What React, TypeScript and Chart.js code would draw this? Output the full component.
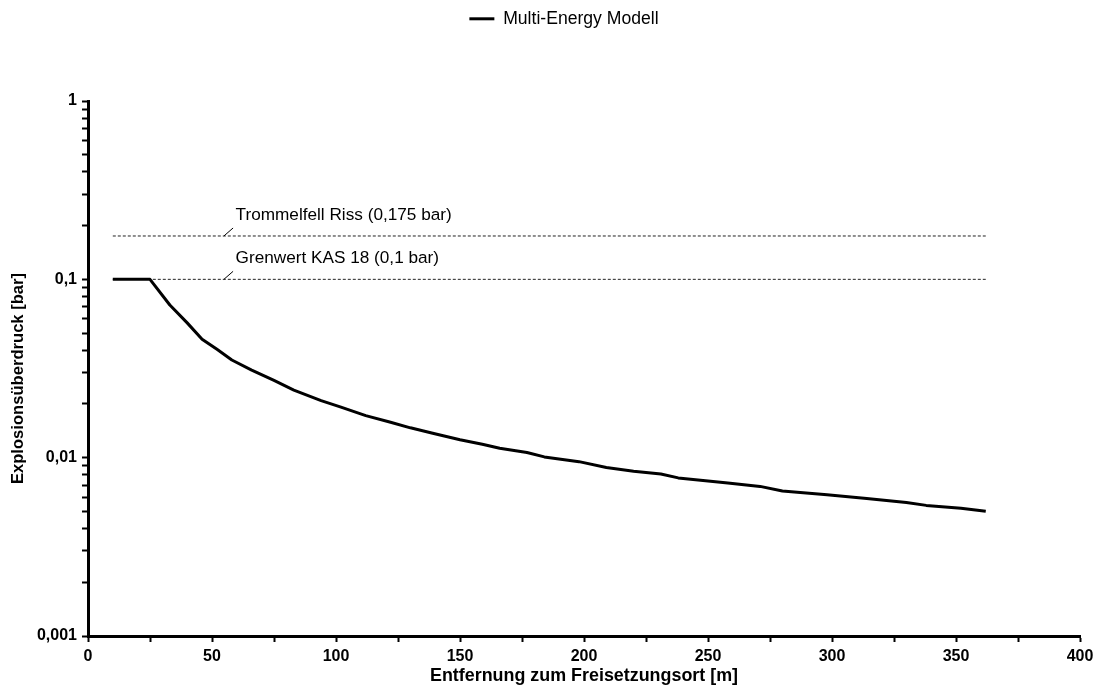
import React, { useEffect, useRef } from 'react';
import { Chart, registerables } from 'chart.js';

Chart.register(...registerables);

// ---- data ----
const seriesName = 'Multi-Energy Modell';
const distances = [10, 25, 33, 40, 46, 52, 58, 66, 75, 83, 94, 102, 112, 122, 130, 139, 150, 159, 166, 177, 184, 198, 209, 220, 231, 238, 258, 271, 280, 298, 314, 330, 338, 352, 362];
const pressures = [0.1, 0.1, 0.0718, 0.057, 0.0462, 0.0405, 0.0353, 0.031, 0.0271, 0.0239, 0.0209, 0.0192, 0.0172, 0.0158, 0.0147, 0.0137, 0.0126, 0.0119, 0.0113, 0.0107, 0.0101, 0.0095, 0.0088, 0.0084, 0.0081, 0.0077, 0.0072, 0.0069, 0.0065, 0.0062, 0.0059, 0.0056, 0.0054, 0.0052, 0.005];

const thresholdValues = [0.175, 0.1];
const thresholdLabels = ['Trommelfell Riss (0,175 bar)', 'Grenwert KAS 18 (0,1 bar)'];
const thresholdRange = [10, 362];
const thresholdLabelX = 59.5;
const leaderRange = [54.8, 58.5];

const xTickValues = [0, 25, 50, 75, 100, 125, 150, 175, 200, 225, 250, 275, 300, 325, 350, 375, 400];
const xTickLabels = ['0', '', '50', '', '100', '', '150', '', '200', '', '250', '', '300', '', '350', '', '400'];
const yMajorTicks = [0.001, 0.01, 0.1, 1];
const yTickLabels = ['0,001', '0,01', '0,1', '1'];
const yMinorMultipliers = [2, 3, 4, 5, 6, 7, 8, 9];

const xTitle = 'Entfernung zum Freisetzungsort [m]';
const yTitle = 'Explosionsüberdruck [bar]';

const FONT = "'Liberation Sans', Arial, sans-serif";

const legendSpacer = {
  id: 'legendSpacer',
  beforeUpdate(chart: any) {
    const lg = chart.legend;
    if (lg && !lg.__patched) {
      const orig = lg.fit;
      lg.fit = function () {
        orig.call(this);
        this.height = 101;
      };
      lg.__patched = true;
    }
  },
  afterLayout(chart: any) {
    const lg = chart.legend;
    if (lg) {
      lg.left += 24;
      lg.right += 24;
    }
  },
};

const yTitlePlugin = {
  id: 'yTitlePlugin',
  afterDraw(chart: any) {
    const { ctx, chartArea } = chart;
    ctx.save();
    ctx.translate(18, (chartArea.top + chartArea.bottom) / 2 + 10);
    ctx.rotate(-Math.PI / 2);
    ctx.font = `bold 16.6px ${FONT}`;
    ctx.fillStyle = '#000';
    ctx.textAlign = 'center';
    ctx.textBaseline = 'middle';
    ctx.fillText(yTitle, 0, 0);
    ctx.restore();
  },
};

const thresholdAnnotations = {
  id: 'thresholdAnnotations',
  afterDatasetsDraw(chart: any) {
    const { ctx, scales } = chart;
    const xs = scales.x;
    const ys = scales.y;
    ctx.save();
    thresholdValues.forEach((v, i) => {
      const py = ys.getPixelForValue(v);
      const x0 = xs.getPixelForValue(leaderRange[0]);
      const x1 = xs.getPixelForValue(leaderRange[1]);
      ctx.strokeStyle = '#000';
      ctx.lineWidth = 1;
      ctx.beginPath();
      ctx.moveTo(x0, py);
      ctx.lineTo(x1, py - 8);
      ctx.stroke();
      ctx.fillStyle = '#000';
      ctx.font = `17.2px ${FONT}`;
      ctx.textBaseline = 'alphabetic';
      ctx.textAlign = 'left';
      ctx.fillText(thresholdLabels[i], xs.getPixelForValue(thresholdLabelX), py - 16);
    });
    ctx.restore();
  },
};

function isMajor(v: number) {
  return yMajorTicks.findIndex((m) => Math.abs(Math.log10(v) - Math.log10(m)) < 1e-6);
}

export default function App() {
  const ref = useRef<HTMLCanvasElement>(null);

  useEffect(() => {
    if (!ref.current) return;
    Chart.defaults.color = '#000';
    const thresholdSets = thresholdValues.map((v, i) => ({
      label: thresholdLabels[i],
      data: thresholdRange.map((x) => ({ x, y: v })),
      borderColor: '#222',
      borderWidth: 1,
      borderDash: [3, 2],
      pointRadius: 0,
      fill: false,
    }));
    const chart = new Chart(ref.current, {
      type: 'line',
      data: {
        datasets: [
          {
            label: seriesName,
            data: distances.map((x, i) => ({ x, y: pressures[i] })),
            borderColor: '#000',
            backgroundColor: '#000',
            borderWidth: 3,
            pointRadius: 0,
            tension: 0,
            fill: false,
            borderJoinStyle: 'round',
          },
          ...thresholdSets,
        ],
      },
      options: {
        animation: false,
        responsive: false,
        devicePixelRatio: 1,
        layout: { padding: { top: 0, right: 19, left: 0, bottom: 0 } },
        plugins: {
          tooltip: { enabled: false },
          legend: {
            position: 'top',
            labels: {
              font: { family: FONT, size: 17.6 },
              color: '#000',
              boxWidth: 25,
              boxHeight: 3,
              padding: 10,
              generateLabels: () => [
                {
                  text: seriesName,
                  fillStyle: '#000',
                  strokeStyle: '#000',
                  lineWidth: 0,
                  hidden: false,
                  datasetIndex: 0,
                },
              ],
            },
          },
        },
        scales: {
          x: {
            type: 'linear',
            min: 0,
            max: 400,
            afterFit: (s: any) => {
              s.height = 52;
            },
            afterBuildTicks: (s: any) => {
              s.ticks = xTickValues.map((value) => ({ value }));
            },
            ticks: {
              autoSkip: false,
              maxRotation: 0,
              padding: 5,
              font: { family: FONT, size: 16, weight: 'bold' },
              color: '#000',
              callback: (v: any) => {
                const idx = xTickValues.indexOf(Number(v));
                return idx >= 0 ? xTickLabels[idx] : '';
              },
            },
            grid: {
              drawOnChartArea: false,
              drawTicks: true,
              tickLength: 6,
              tickWidth: 2,
              tickColor: '#000',
              color: '#000',
            },
            border: { display: true, color: '#000', width: 3 },
            title: {
              display: true,
              text: xTitle,
              font: { family: FONT, size: 17.9, weight: 'bold' },
              color: '#000',
              padding: { top: 0, bottom: 1 },
            },
          },
          y: {
            type: 'logarithmic',
            min: 0.001,
            max: 1,
            afterFit: (s: any) => {
              s.width = 88;
            },
            afterBuildTicks: (s: any) => {
              const ticks: { value: number }[] = [];
              yMajorTicks.forEach((m, i) => {
                ticks.push({ value: m });
                if (i < yMajorTicks.length - 1) {
                  yMinorMultipliers.forEach((k) => ticks.push({ value: m * k }));
                }
              });
              s.ticks = ticks;
            },
            ticks: {
              autoSkip: false,
              padding: 5,
              font: { family: FONT, size: 16, weight: 'bold' },
              color: '#000',
              callback: (v: any) => {
                const idx = isMajor(Number(v));
                return idx >= 0 ? yTickLabels[idx] : '';
              },
            },
            grid: {
              drawOnChartArea: false,
              drawTicks: true,
              tickLength: 6,
              tickWidth: 2,
              tickColor: '#000',
              color: '#000',
            },
            border: { display: true, color: '#000', width: 3 },
            title: { display: false },
          },
        },
      },
      plugins: [legendSpacer, thresholdAnnotations, yTitlePlugin],
    } as any);
    return () => chart.destroy();
  }, []);

  return (
    <div style={{ position: 'absolute', left: 0, top: 0, width: 1099, height: 688, background: '#fff' }}>
      <canvas ref={ref} width={1099} height={688} />
    </div>
  );
}
